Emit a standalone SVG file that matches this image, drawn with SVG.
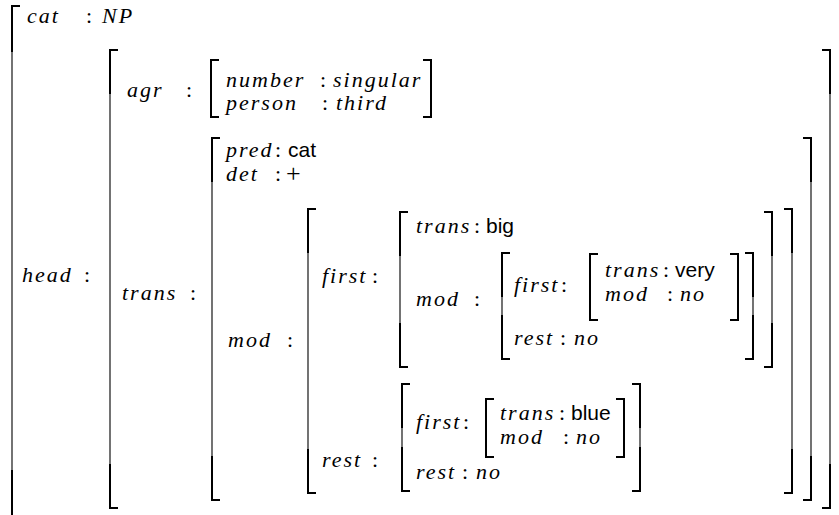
<svg xmlns="http://www.w3.org/2000/svg" width="839" height="515" viewBox="0 0 839 515">
<style>
  .m { font-family: 'Liberation Serif', 'Times New Roman', serif; font-style: italic; font-size: 22px; letter-spacing: 2px; fill: #000; }
  .c { font-family: 'Liberation Serif', 'Times New Roman', serif; font-size: 22px; fill: #000; }
  .p { font-family: 'Liberation Serif', 'Times New Roman', serif; font-size: 26px; fill: #000; }
  .s { font-family: 'Liberation Sans', Arial, sans-serif; font-size: 21px; fill: #000; }
  .thin { fill: none; stroke: #000; stroke-width: 1.1; }
  .thick { fill: none; stroke: #000; stroke-width: 2; stroke-linejoin: miter; stroke-linecap: butt; }
</style>
<rect width="839" height="515" fill="#fff"/>

<!-- brackets -->
<g id="brackets">
  <!-- outermost, left side only -->
  <g id="br-outer">
    <path class="thin" d="M12,5 V515"/>
    <path class="thick" d="M20,6 H12 V52"/>
    <path class="thick" d="M12,470 V515"/>
  </g>
  <!-- head value -->
  <g id="br-head">
    <path class="thin" d="M110,49 V509 M830,49 V509"/>
    <path class="thick" d="M118,50 H110 V94 M110,464 V508 H118"/>
    <path class="thick" d="M822,50 H830 V94 M830,464 V508 H822"/>
  </g>
  <!-- agr value -->
  <g id="br-agr">
    <path class="thick" d="M219,60 H211 V117 H219"/>
    <path class="thick" d="M423,60 H431 V117 H423"/>
  </g>
  <!-- trans value -->
  <g id="br-trans">
    <path class="thin" d="M212,137 V501 M811,137 V501"/>
    <path class="thick" d="M220,138 H212 V182 M212,456 V500 H220"/>
    <path class="thick" d="M803,138 H811 V182 M811,456 V500 H803"/>
  </g>
  <!-- mod list -->
  <g id="br-mod">
    <path class="thin" d="M308,208 V494 M792,208 V494"/>
    <path class="thick" d="M316,209 H308 V253 M308,449 V493 H316"/>
    <path class="thick" d="M784,209 H792 V253 M792,449 V493 H784"/>
  </g>
  <!-- first modifier -->
  <g id="br-first">
    <path class="thin" d="M400,211 V368 M772,211 V368"/>
    <path class="thick" d="M408,212 H400 V256 M400,323 V367 H408"/>
    <path class="thick" d="M764,212 H772 V256 M772,323 V367 H764"/>
  </g>
  <!-- nested mod list -->
  <g id="br-inner-mod">
    <path class="thin" d="M502,252 V360 M753,252 V360"/>
    <path class="thick" d="M510,253 H502 V297 M502,315 V359 H510"/>
    <path class="thick" d="M745,253 H753 V297 M753,315 V359 H745"/>
  </g>
  <!-- very -->
  <g id="br-very">
    <path class="thick" d="M598,254 H590 V320 H598"/>
    <path class="thick" d="M730,254 H738 V320 H730"/>
  </g>
  <!-- rest list -->
  <g id="br-rest">
    <path class="thin" d="M402,383 V492 M640,383 V492"/>
    <path class="thick" d="M410,384 H402 V428 M402,447 V491 H410"/>
    <path class="thick" d="M632,384 H640 V428 M640,447 V491 H632"/>
  </g>
  <!-- blue -->
  <g id="br-blue">
    <path class="thick" d="M494,399 H486 V457 H494"/>
    <path class="thick" d="M616,399 H624 V457 H616"/>
  </g>
</g>

<!-- top level -->
<g id="cat">
  <text class="m" x="27" y="23">cat</text><text class="c" x="86" y="23">:</text><text class="m" x="102" y="23" letter-spacing="4">NP</text>
</g>
<g id="head">
  <text class="m" x="22" y="282">head</text><text class="c" x="84" y="282">:</text>
</g>
<g id="agr">
  <text class="m" x="127" y="97">agr</text><text class="c" x="186" y="97">:</text>
  <text class="m" x="226" y="87">number</text><text class="c" x="320" y="87">:</text><text class="m" x="333" y="87">singular</text>
  <text class="m" x="226" y="110">person</text><text class="c" x="322" y="110">:</text><text class="m" x="336" y="110">third</text>
</g>
<g id="trans">
  <text class="m" x="122" y="300">trans</text><text class="c" x="190" y="300">:</text>
  <text class="m" x="226" y="157">pred</text><text class="c" x="275" y="157">:</text><text class="s" x="288" y="157">cat</text>
  <text class="m" x="226" y="181">det</text><text class="c" x="275" y="181">:</text><text class="p" x="286" y="182">+</text>
  <text class="m" x="228" y="347">mod</text><text class="c" x="287" y="347">:</text>
</g>
<g id="mod-first">
  <text class="m" x="322" y="283">first</text><text class="c" x="372" y="283">:</text>
  <text class="m" x="416" y="233">trans</text><text class="c" x="474" y="233">:</text><text class="s" x="486" y="233">big</text>
  <text class="m" x="416" y="306">mod</text><text class="c" x="474" y="306">:</text>
  <text class="m" x="514" y="292">first</text><text class="c" x="561" y="292">:</text>
  <text class="m" x="605" y="277">trans</text><text class="c" x="663" y="277">:</text><text class="s" x="675" y="277">very</text>
  <text class="m" x="605" y="301">mod</text><text class="c" x="667" y="301">:</text><text class="m" x="680" y="301">no</text>
  <text class="m" x="514" y="345">rest</text><text class="c" x="560" y="345">:</text><text class="m" x="574" y="345">no</text>
</g>
<g id="mod-rest">
  <text class="m" x="322" y="467">rest</text><text class="c" x="372" y="467">:</text>
  <text class="m" x="416" y="429">first</text><text class="c" x="463" y="429">:</text>
  <text class="m" x="500" y="420">trans</text><text class="c" x="559" y="420">:</text><text class="s" x="571" y="420">blue</text>
  <text class="m" x="500" y="444">mod</text><text class="c" x="563" y="444">:</text><text class="m" x="576" y="444">no</text>
  <text class="m" x="416" y="479">rest</text><text class="c" x="462" y="479">:</text><text class="m" x="476" y="479">no</text>
</g>
</svg>
